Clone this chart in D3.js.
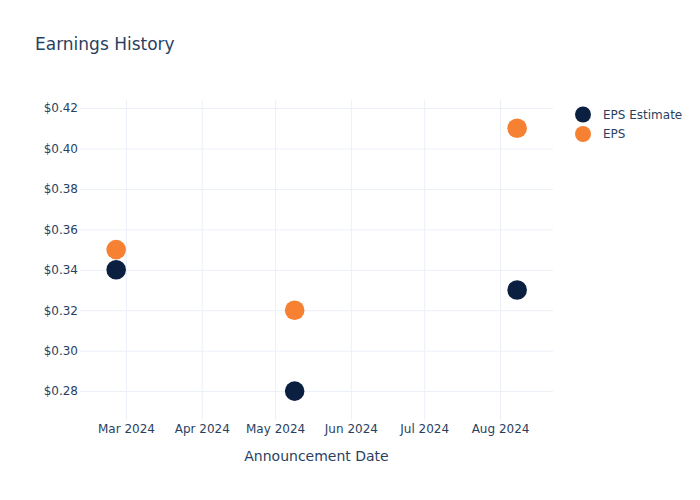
<!DOCTYPE html>
<html>
<head>
<meta charset="utf-8">
<script src="https://cdn.jsdelivr.net/npm/d3@7"></script>
<style>
  body { margin: 0; background: #fff; }
  text { font-family: "DejaVu Sans", Verdana, sans-serif; }
</style>
</head>
<body>
<svg id="chart" width="700" height="500"></svg>
<script>
const dates = ["2024-02-26", "2024-05-09", "2024-08-08"];
const epsEstimate = [0.34, 0.28, 0.33];
const epsActual = [0.35, 0.32, 0.41];
const seriesNames = ["EPS Estimate", "EPS"];
const seriesColors = ["#0b1f40", "#f68133"];
const yTicks = [0.28, 0.30, 0.32, 0.34, 0.36, 0.38, 0.40, 0.42];
const xTicks = ["2024-03-01", "2024-04-01", "2024-05-01", "2024-06-01", "2024-07-01", "2024-08-01"];

const parse = d3.utcParse("%Y-%m-%d");
const svg = d3.select("#chart");
const W = 700, H = 500;
const m = { l: 80, r: 147, t: 100, b: 80 };
const pw = W - m.l - m.r, ph = H - m.t - m.b;
const textColor = "#2a3f5f";
const gridColor = "#ebf0f8";

const x = d3.scaleUtc()
  .domain([new Date(Date.UTC(2024, 1, 11, 5)), new Date(Date.UTC(2024, 7, 22, 16))])
  .range([m.l, m.l + pw]);
const y = d3.scaleLinear().domain([0.2657, 0.4240]).range([m.t + ph, m.t]);

svg.append("rect").attr("width", W).attr("height", H).attr("fill", "#fff");

// x grid + labels
const xAxis = d3.axisBottom(x)
  .tickValues(xTicks.map(parse))
  .tickFormat(d3.utcFormat("%b %Y"))
  .tickSizeInner(-ph).tickSizeOuter(0).tickPadding(4.5);
const gx = svg.append("g").attr("transform", `translate(0,${m.t + ph})`).call(xAxis);
gx.select(".domain").remove();
gx.selectAll("line").attr("stroke", gridColor).attr("stroke-width", 1);
gx.selectAll("text").attr("fill", textColor).attr("font-size", 12)
  .style("font-family", "'DejaVu Sans', Verdana, sans-serif");

// y grid + labels
const yAxis = d3.axisLeft(y)
  .tickValues(yTicks)
  .tickFormat(d => "$" + d3.format(".2f")(d))
  .tickSizeInner(-pw).tickSizeOuter(0).tickPadding(2);
const gy = svg.append("g").attr("transform", `translate(${m.l},0)`).call(yAxis);
gy.select(".domain").remove();
gy.selectAll("line").attr("stroke", gridColor).attr("stroke-width", 1);
gy.selectAll("text").attr("fill", textColor).attr("font-size", 12)
  .style("font-family", "'DejaVu Sans', Verdana, sans-serif");

// points
const series = [epsEstimate, epsActual];
series.forEach((vals, i) => {
  svg.append("g").selectAll("circle")
    .data(vals.map((v, j) => ({ d: parse(dates[j]), v })))
    .join("circle")
    .attr("cx", d => x(d.d))
    .attr("cy", d => y(d.v))
    .attr("r", 9.8)
    .attr("fill", seriesColors[i]);
});

// title
svg.append("text").attr("x", 35).attr("y", 50)
  .attr("font-size", 17).attr("fill", textColor).text("Earnings History");

// x axis title
svg.append("text").attr("x", m.l + pw / 2).attr("y", 461)
  .attr("text-anchor", "middle").attr("font-size", 14).attr("fill", textColor)
  .text("Announcement Date");

// legend
const lg = svg.append("g");
seriesNames.forEach((name, i) => {
  const cy = 114.5 + i * 19.5;
  lg.append("circle").attr("cx", 583).attr("cy", cy).attr("r", 8).attr("fill", seriesColors[i]);
  lg.append("text").attr("x", 603).attr("y", cy).attr("dy", "0.35em")
    .attr("font-size", 12).attr("fill", textColor).text(name);
});
</script>
</body>
</html>
